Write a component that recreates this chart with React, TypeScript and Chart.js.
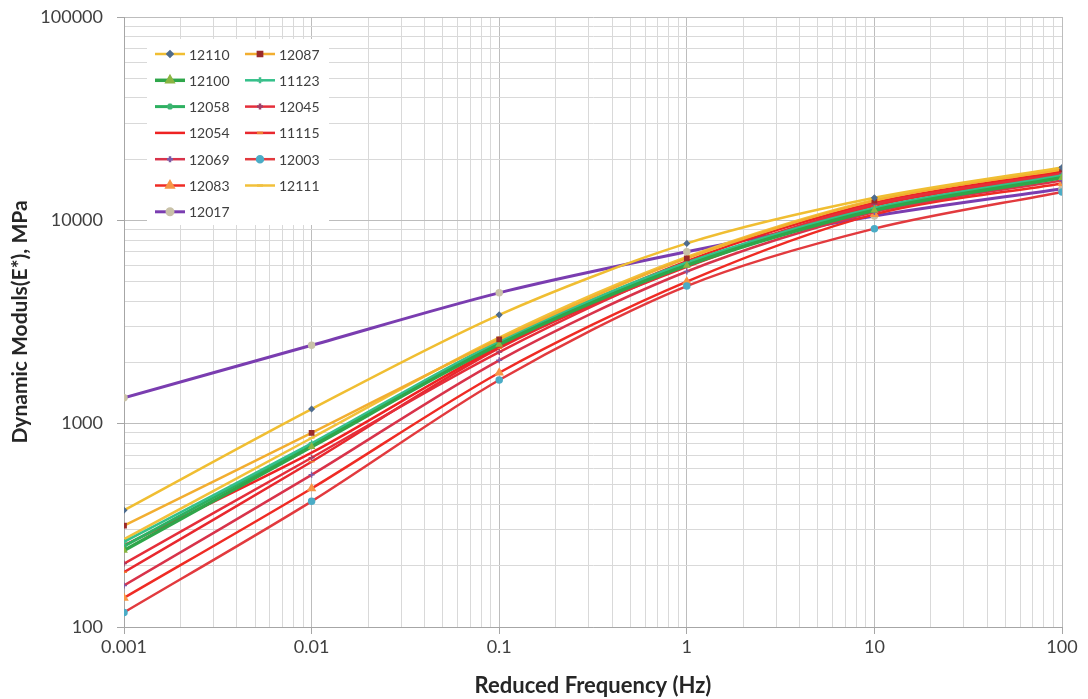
import React, { useEffect, useRef } from "react";
import { Chart, registerables } from "chart.js";
import { drawPoint } from "chart.js/helpers";

Chart.register(...registerables);

// Reduced frequency (Hz) at which each mixture was measured
const frequencies = [0.001, 0.01, 0.1, 1, 10, 100];

// Dynamic modulus |E*| (MPa) per mixture
const s12110 = [375, 1180, 3430, 7700, 12900, 18200];
const s12087 = [315, 900, 2600, 6500, 12500, 17900];
const s12100 = [238, 770, 2450, 6000, 11200, 16200];
const s11123 = [262, 800, 2550, 6200, 11500, 16600];
const s12058 = [250, 790, 2500, 6100, 11300, 16400];
const s12045 = [205, 680, 2250, 6000, 12000, 17000];
const s12054 = [252, 720, 2400, 6300, 12200, 17300];
const s11115 = [186, 650, 2350, 5900, 11800, 16800];
const s12069 = [160, 560, 2050, 5600, 11000, 15700];
const s12003 = [118, 415, 1640, 4750, 9100, 13800];
const s12083 = [139, 480, 1780, 5000, 10700, 15200];
const s12111 = [270, 850, 2650, 6600, 12600, 17600];
const s12017 = [1340, 2430, 4400, 7000, 10500, 14300];

// Decade labels
const xTickLabels = ["0.001", "0.01", "0.1", "1", "10", "100"];
const yTickLabels = ["100", "1000", "10000", "100000"];

const FONT = "Lato, 'Open Sans', 'DejaVu Sans', sans-serif";

type SeriesStyle = {
  label: string;
  values: number[];
  line: string;
  width: number;
  marker: string;
  pointStyle: any;
  radius: number;
};

const series: SeriesStyle[] = [
  { label: "12110", values: s12110, line: "#F0BE32", width: 2.5, marker: "#4E6C8E", pointStyle: "rectRot", radius: 2.5 },
  { label: "12087", values: s12087, line: "#F2AE30", width: 2.5, marker: "#9B2B2B", pointStyle: "rect", radius: 3 },
  { label: "12100", values: s12100, line: "#2FA64A", width: 3.5, marker: "#8AB542", pointStyle: "triangle", radius: 3 },
  { label: "11123", values: s11123, line: "#34C08A", width: 2.5, marker: "#3FBF8C", pointStyle: "cross", radius: 3 },
  { label: "12058", values: s12058, line: "#2DB060", width: 3, marker: "#3CB371", pointStyle: "star", radius: 3 },
  { label: "12045", values: s12045, line: "#E52E3A", width: 2.5, marker: "#A0406A", pointStyle: "cross", radius: 3 },
  { label: "12054", values: s12054, line: "#EE2222", width: 2.5, marker: "#EE2222", pointStyle: "circle", radius: 0 },
  { label: "11115", values: s11115, line: "#E8282E", width: 2.5, marker: "#F08030", pointStyle: "line", radius: 3 },
  { label: "12069", values: s12069, line: "#D8334A", width: 2.5, marker: "#7B5AA6", pointStyle: "cross", radius: 3 },
  { label: "12003", values: s12003, line: "#E23A3E", width: 2.5, marker: "#4BACC6", pointStyle: "circle", radius: 3 },
  { label: "12083", values: s12083, line: "#EF2B24", width: 2.5, marker: "#F79646", pointStyle: "triangle", radius: 4 },
  { label: "12111", values: s12111, line: "#F2C03A", width: 2.5, marker: "#F0C040", pointStyle: "line", radius: 3 },
  { label: "12017", values: s12017, line: "#7A3DB0", width: 3, marker: "#C9C2A8", pointStyle: "circle", radius: 3 },
];

// 1..9 x 10^n ticks so every minor grid line is present
function logTicks(min: number, max: number) {
  const out: { value: number }[] = [];
  const e0 = Math.floor(Math.log10(min) + 1e-9);
  const e1 = Math.ceil(Math.log10(max) - 1e-9);
  for (let e = e0; e <= e1; e++) {
    for (let m = 1; m <= 9; m++) {
      const v = parseFloat((m * Math.pow(10, e)).toPrecision(6));
      if (v >= min * 0.9999 && v <= max * 1.0001) out.push({ value: v });
    }
  }
  return out;
}

function decade(v: number) {
  const l = Math.log10(v);
  return Math.abs(l - Math.round(l)) < 1e-6 ? Math.round(l) : null;
}

const legendPlugin = {
  id: "insetLegend",
  afterDatasetsDraw(chart: any) {
    const ctx = chart.ctx;
    ctx.save();
    ctx.fillStyle = "#ffffff";
    ctx.fillRect(147, 39, 182, 186);
    const rowH = 26.3;
    series.forEach((s, i) => {
      const col = i % 2;
      const row = Math.floor(i / 2);
      const y = 54 + row * rowH;
      const x0 = col === 0 ? 155 : 245;
      ctx.strokeStyle = s.line;
      ctx.lineWidth = s.width;
      ctx.beginPath();
      ctx.moveTo(x0, y);
      ctx.lineTo(x0 + 30, y);
      ctx.stroke();
      if (s.radius > 0) {
        ctx.fillStyle = s.marker;
        ctx.strokeStyle = s.marker;
        drawPoint(ctx, { pointStyle: s.pointStyle, radius: s.radius, rotation: 0, borderWidth: 1.5 }, x0 + 15, y);
      }
      ctx.fillStyle = "#404040";
      ctx.font = "14px " + FONT;
      ctx.textBaseline = "middle";
      ctx.textAlign = "left";
      ctx.fillText(s.label, x0 + 34, y + 1);
    });
    ctx.restore();
  },
};

export default function App() {
  const canvasRef = useRef<HTMLCanvasElement | null>(null);

  useEffect(() => {
    if (!canvasRef.current) return;
    const gridColor = (c: any) => (c.tick && decade(c.tick.value) !== null ? "#bdbdbd" : "#d9d9d9");
    const tickColor = (c: any) => (c.tick && decade(c.tick.value) !== null ? "#a6a6a6" : "rgba(0,0,0,0)");

    const chart = new Chart(canvasRef.current, {
      type: "line",
      data: {
        datasets: series.map((s) => ({
          label: s.label,
          data: frequencies.map((f, i) => ({ x: f, y: s.values[i] })),
          borderColor: s.line,
          backgroundColor: s.marker,
          borderWidth: s.width,
          pointStyle: s.pointStyle,
          pointRadius: s.radius,
          pointBackgroundColor: s.marker,
          pointBorderColor: s.marker,
          pointBorderWidth: 1.5,
          tension: 0.3,
          fill: false,
        })),
      },
      options: {
        animation: false,
        responsive: false,
        events: [],
        layout: { padding: { left: 8, top: 17, right: 26, bottom: 0 } },
        plugins: { legend: { display: false }, tooltip: { enabled: false } },
        scales: {
          x: {
            type: "logarithmic",
            min: 0.001,
            max: 100,
            afterBuildTicks: (scale: any) => {
              scale.ticks = logTicks(0.001, 100);
            },
            afterFit: (scale: any) => {
              scale.height = 72;
              scale.paddingLeft = 0;
              scale.paddingRight = 0;
            },
            grid: { color: gridColor, tickColor: tickColor, tickLength: 7, lineWidth: 1 },
            border: { color: "#a6a6a6" },
            ticks: {
              autoSkip: false,
              maxRotation: 0,
              padding: 2,
              color: "#404040",
              font: { family: FONT, size: 18 },
              callback: (v: any) => {
                const d = decade(Number(v));
                return d === null ? "" : xTickLabels[d + 3];
              },
            },
            title: {
              display: true,
              text: "Reduced Frequency (Hz)",
              color: "#262626",
              font: { family: FONT, size: 22, weight: "bold" },
              padding: { top: 0, bottom: 0 },
            },
          },
          y: {
            type: "logarithmic",
            min: 100,
            max: 100000,
            afterBuildTicks: (scale: any) => {
              scale.ticks = logTicks(100, 100000);
            },
            afterFit: (scale: any) => {
              scale.width = 116;
              scale.paddingTop = 0;
              scale.paddingBottom = 0;
            },
            grid: { color: gridColor, tickColor: tickColor, tickLength: 7, lineWidth: 1 },
            border: { color: "#a6a6a6" },
            ticks: {
              autoSkip: false,
              padding: 14,
              color: "#404040",
              font: { family: FONT, size: 18 },
              callback: (v: any) => {
                const d = decade(Number(v));
                return d === null ? "" : yTickLabels[d - 2];
              },
            },
            title: {
              display: true,
              text: "Dynamic Moduls(E*), MPa",
              color: "#262626",
              font: { family: FONT, size: 21, weight: "bold" },
              padding: { top: 0, bottom: 0 },
            },
          },
        },
      },
      plugins: [legendPlugin],
    } as any);
    return () => chart.destroy();
  }, []);

  return (
    <div style={{ position: "absolute", left: 0, top: 0, width: 1088, height: 699, background: "#ffffff" }}>
      <canvas ref={canvasRef} width={1088} height={699} style={{ display: "block" }} />
    </div>
  );
}
